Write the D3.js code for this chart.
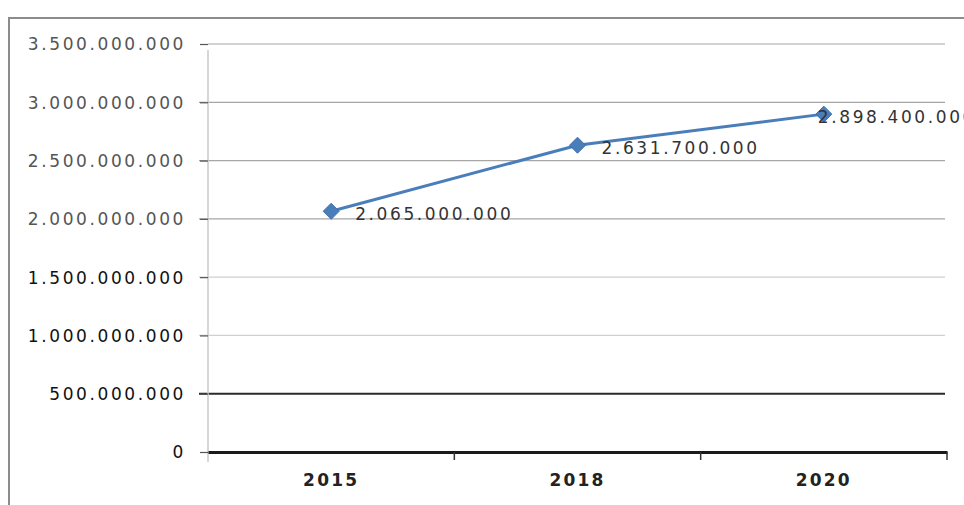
<!DOCTYPE html>
<html>
<head>
<meta charset="utf-8">
<script src="https://cdn.jsdelivr.net/npm/d3@7"></script>
<style>
  html, body { margin: 0; padding: 0; background: #fff; }
  svg { display: block; }
  text { font-family: "DejaVu Sans", Verdana, sans-serif; }
</style>
</head>
<body>
<svg id="chart" width="964" height="505"></svg>
<script>
const categories = ["2015", "2018", "2020"];
const values = [2065000000, 2631700000, 2898400000];
const yTicks = [0, 500000000, 1000000000, 1500000000, 2000000000, 2500000000, 3000000000, 3500000000];

const svg = d3.select("#chart");
const W = 964, H = 505;
const plot = { left: 208, right: 947, top: 44, bottom: 452 };

const locale = d3.formatLocale({ decimal: ",", thousands: ".", grouping: [3], currency: ["", ""] });
const fmt = locale.format(",.0f");

const x = d3.scaleBand().domain(categories).range([plot.left, plot.right]).paddingInner(0).paddingOuter(0);
const y = d3.scaleLinear().domain([0, 3500000000]).range([plot.bottom, plot.top]);

// outer frame
svg.append("path")
  .attr("d", `M9,${H} L9,18 L${W},18`)
  .attr("fill", "none").attr("stroke", "#8c8c8c").attr("stroke-width", 2);

// gridlines
const grid = svg.append("g");
yTicks.forEach(t => {
  if (t === 0) return;
  const low = t <= 500000000;
  grid.append("line")
    .attr("x1", t === 3500000000 ? plot.left : plot.left - 9)
    .attr("x2", plot.right - 2)
    .attr("y1", y(t)).attr("y2", y(t))
    .attr("stroke", low ? "#2a2a2a" : (t < 2000000000 ? "#d0d0d0" : "#a6a6a6"))
    .attr("stroke-width", low ? 2 : 1.2);
});

// y axis line
svg.append("line")
  .attr("x1", plot.left).attr("x2", plot.left)
  .attr("y1", 50).attr("y2", plot.bottom + 10)
  .attr("stroke", "#c8c8c8").attr("stroke-width", 1.5);

// y tick labels
const yAxis = d3.axisLeft(y).tickValues(yTicks).tickFormat(fmt).tickSize(8).tickPadding(14);
const gy = svg.append("g").attr("transform", `translate(${plot.left},0)`).call(yAxis);
gy.select(".domain").remove();
gy.selectAll(".tick line").attr("stroke", "#555").attr("stroke-width", 1.2);
gy.selectAll(".tick text")
  .attr("font-size", 17)
  .attr("letter-spacing", "2.6px")
  .attr("font-family", "'DejaVu Sans', Verdana, sans-serif")
  .attr("fill", d => d >= 2000000000 ? "#555" : "#111")
  .attr("dy", "0.35em");

// x axis
const xAxis = d3.axisBottom(x).tickSize(0).tickPadding(22);
const gx = svg.append("g").attr("transform", `translate(0,${plot.bottom})`).call(xAxis);
gx.select(".domain").attr("stroke", "#1a1a1a").attr("stroke-width", 3);
gx.selectAll(".tick text")
  .attr("font-size", 17)
  .attr("letter-spacing", "2.2px")
  .attr("font-weight", "bold")
  .attr("font-family", "'DejaVu Sans', Verdana, sans-serif")
  .attr("fill", "#222");
// category boundary ticks
const bounds = categories.map(c => x(c) + x.bandwidth());
svg.append("g").selectAll("line").data(bounds).join("line")
  .attr("x1", d => d).attr("x2", d => d)
  .attr("y1", plot.bottom).attr("y2", plot.bottom + 8)
  .attr("stroke", "#333").attr("stroke-width", 1.5);

// line series
const cx = d => x(d) + x.bandwidth() / 2;
const data = categories.map((c, i) => ({ c, v: values[i] }));
svg.append("path")
  .datum(data)
  .attr("d", d3.line().x(d => cx(d.c)).y(d => y(d.v)))
  .attr("fill", "none").attr("stroke", "#4a7ebb").attr("stroke-width", 3);

// markers (diamonds)
const r = 8;
svg.append("g").selectAll("path").data(data).join("path")
  .attr("transform", d => `translate(${cx(d.c)},${y(d.v)})`)
  .attr("d", `M0,${-r} L${r},0 L0,${r} L${-r},0 Z`)
  .attr("fill", "#4a7ebb").attr("stroke", "#3f70ab").attr("stroke-width", 1);

// data labels
const labelDx = [24, 24, -6];
svg.append("g").selectAll("text").data(data).join("text")
  .attr("x", (d, i) => cx(d.c) + labelDx[i])
  .attr("y", d => y(d.v) + 3)
  .attr("dy", "0.35em")
  .attr("font-size", 17)
  .attr("letter-spacing", "2.6px")
  .attr("fill", "#333")
  .text(d => fmt(d.v));
</script>
</body>
</html>
